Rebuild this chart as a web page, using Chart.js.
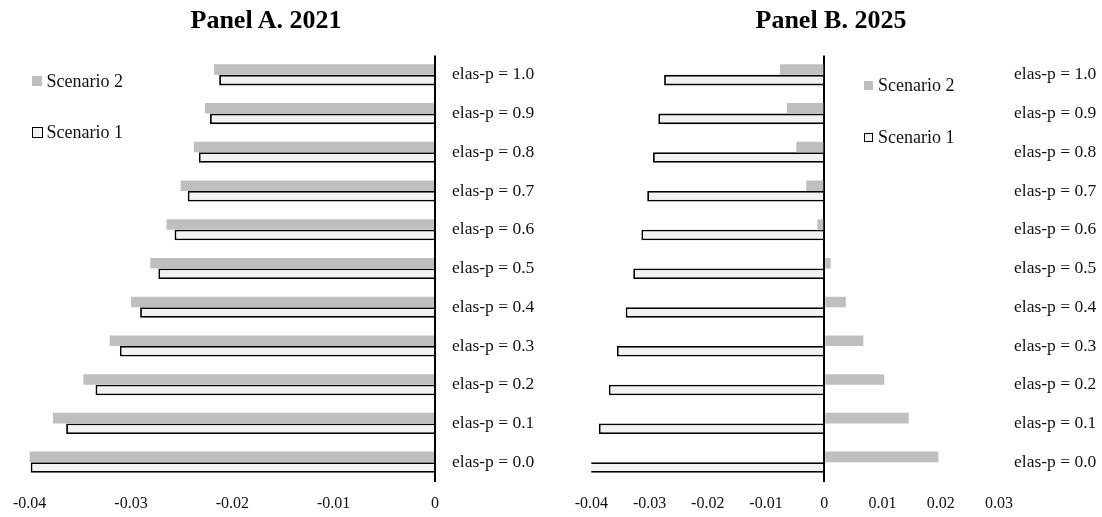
<!DOCTYPE html>
<html>
<head>
<meta charset="utf-8">
<script src="https://cdn.jsdelivr.net/npm/chart.js@4.4.1/dist/chart.umd.min.js"></script>
<style>
  html, body { margin: 0; padding: 0; background: #fff; }
  body { width: 1102px; height: 517px; position: relative; overflow: hidden; font-family: "Liberation Serif", "Times New Roman", serif; }
  .panel { position: absolute; top: 0; width: 551px; height: 517px; }
  .title { position: absolute; top: 4.5px; width: 400px; text-align: center; font-size: 26px; line-height: 30px; font-weight: bold; color: #000; z-index: 2; }
  .legend-item { position: absolute; height: 20px; display: flex; align-items: center; font-size: 18px; color: #111; white-space: nowrap; z-index: 2; }
  .sw { box-sizing: border-box; flex: none; }
  .sw.s2 { background: #BFBFBF; }
  .sw.s1 { background: #F2F2F2; border: 1.5px solid #000; }
</style>
</head>
<body>
<div class="panel" style="left:0"><canvas id="panelA"></canvas></div>
<div class="panel" style="left:551px"><canvas id="panelB"></canvas></div>

<div class="title" style="left:66px">Panel A. 2021</div>
<div class="title" style="left:631px">Panel B. 2025</div>

<div class="legend-item" style="left:32px; top:71px"><span class="sw s2" style="width:10px;height:10px;margin-right:4.5px"></span>Scenario 2</div>
<div class="legend-item" style="left:31.5px; top:122.5px"><span class="sw s1" style="width:11px;height:11px;margin-right:4px"></span>Scenario 1</div>
<div class="legend-item" style="left:864px; top:75.5px"><span class="sw s2" style="width:9px;height:9px;margin-right:5px"></span>Scenario 2</div>
<div class="legend-item" style="left:864px; top:127px"><span class="sw s1" style="width:9px;height:9px;margin-right:5px"></span>Scenario 1</div>

<script>
const categories = ['elas-p = 1.0', 'elas-p = 0.9', 'elas-p = 0.8', 'elas-p = 0.7', 'elas-p = 0.6',
  'elas-p = 0.5', 'elas-p = 0.4', 'elas-p = 0.3', 'elas-p = 0.2', 'elas-p = 0.1', 'elas-p = 0.0'];

// Panel A. 2021
const scen2A = [-0.0218, -0.0227, -0.0238, -0.0251, -0.0265, -0.0281, -0.0300, -0.0321, -0.0347, -0.0377, -0.0402];
const scen1A = [-0.0213, -0.0222, -0.0233, -0.0244, -0.0257, -0.0273, -0.0291, -0.0311, -0.0335, -0.0364, -0.0399];
const ticksA = ['-0.04', '-0.03', '-0.02', '-0.01', '0'];

// Panel B. 2025
const scen2B = [-0.0076, -0.0064, -0.0048, -0.0031, -0.0012, 0.0011, 0.0037, 0.0067, 0.0103, 0.0145, 0.0196];
const scen1B = [-0.0275, -0.0285, -0.0294, -0.0304, -0.0314, -0.0328, -0.0341, -0.0356, -0.0370, -0.0387, -0.0405];
const ticksB = ['-0.04', '-0.03', '-0.02', '-0.01', '0', '0.01', '0.02', '0.03'];

const serif = '"Liberation Serif", "Times New Roman", serif';

function makePanel(id, s2, s1, tickLabels, xMin, xMax, padLeft, yWidth, labelPad) {
  return new Chart(document.getElementById(id), {
    type: 'bar',
    data: {
      labels: categories,
      datasets: [
        { label: 'Scenario 2', data: s2, backgroundColor: '#BFBFBF', borderWidth: 0 },
        { label: 'Scenario 1', data: s1, backgroundColor: '#F2F2F2', borderColor: '#000', borderWidth: 1.8 }
      ]
    },
    options: {
      indexAxis: 'y',
      responsive: true,
      maintainAspectRatio: false,
      animation: false,
      datasets: { bar: { barPercentage: 1, categoryPercentage: 0.545 } },
      layout: { padding: { left: padLeft, right: 0, top: 55.5, bottom: 0 } },
      plugins: {
        legend: { display: false },
        tooltip: { enabled: false },
        title: { display: false }
      },
      scales: {
        x: {
          type: 'linear', min: xMin, max: xMax, z: 1,
          ticks: {
            stepSize: 0.01, padding: 13, color: '#111', maxRotation: 0, autoSkip: false,
            font: { family: serif, size: 16 },
            callback: (v, i) => tickLabels[i]
          },
          // only the zero line is drawn
          grid: {
            drawTicks: false, lineWidth: 2,
            color: c => (c.tick && Math.abs(c.tick.value) < 1e-9) ? '#000' : 'rgba(0,0,0,0)'
          },
          border: { display: false },
          afterFit: s => { s.height = 35.5; }
        },
        y: {
          position: 'right',
          ticks: { padding: labelPad, color: '#111', autoSkip: false, font: { family: serif, size: 17.5 } },
          grid: { display: false, drawTicks: false },
          border: { display: false },
          afterFit: s => { s.width = yWidth; }
        }
      }
    }
  });
}

makePanel('panelA', scen2A, scen1A, ticksA, -0.04, 0, 28, 116, 17);
makePanel('panelB', scen2B, scen1B, ticksB, -0.04, 0.03, 40.3, 103, 15);
</script>
</body>
</html>
